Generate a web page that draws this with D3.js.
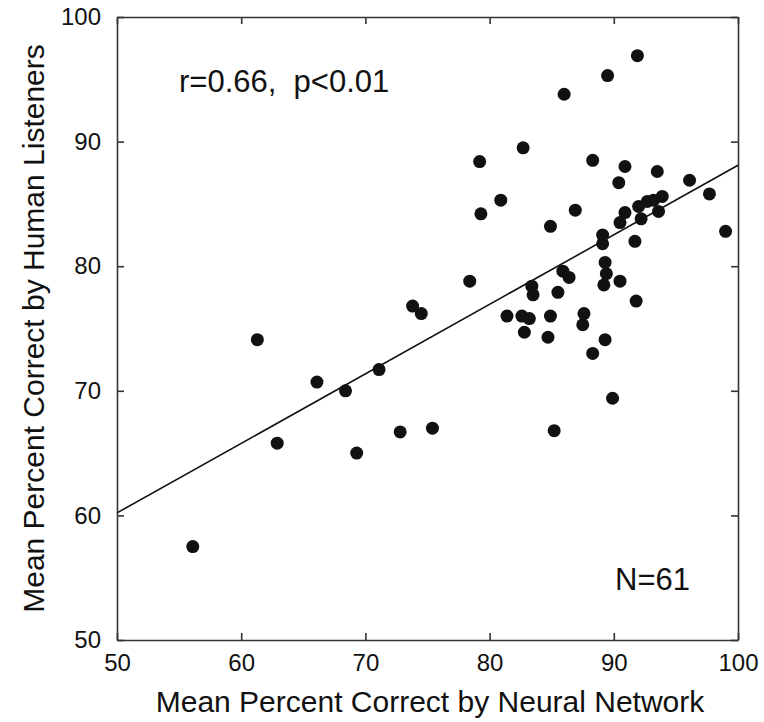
<!DOCTYPE html>
<html>
<head>
<meta charset="utf-8">
<script src="https://cdn.jsdelivr.net/npm/d3@7"></script>
<style>
  body { margin: 0; background: #fff; }
  text { font-family: "Liberation Sans", Arial, sans-serif; fill: #111; }
</style>
</head>
<body>
<div id="chart"></div>
<script>
// neural network score (x) and human listener score (y), one pair per item
var networkScores = [
    56.1, 61.3, 62.9, 66.1, 68.4, 69.3, 71.1, 72.8, 73.8, 74.5,
    75.4, 78.4, 79.2, 79.3, 80.9, 81.4, 82.6, 82.7, 82.8, 83.2,
    83.4, 83.5, 84.7, 84.9, 84.9, 85.2, 85.5, 85.9, 86.0, 86.4,
    86.9, 87.5, 87.6, 88.3, 88.3, 89.1, 89.1, 89.2, 89.3, 89.3,
    89.4, 89.5, 89.9, 90.4, 90.5, 90.5, 90.9, 90.9, 91.7, 91.8,
    91.9, 92.0, 92.2, 92.7, 93.2, 93.5, 93.6, 93.9, 96.1, 97.7,
    99.0
];
var humanScores = [
    57.5, 74.1, 65.8, 70.7, 70.0, 65.0, 71.7, 66.7, 76.8, 76.2,
    67.0, 78.8, 88.4, 84.2, 85.3, 76.0, 76.0, 89.5, 74.7, 75.8,
    78.4, 77.7, 74.3, 76.0, 83.2, 66.8, 77.9, 79.6, 93.8, 79.1,
    84.5, 75.3, 76.2, 73.0, 88.5, 81.8, 82.5, 78.5, 74.1, 80.3,
    79.4, 95.3, 69.4, 86.7, 78.8, 83.5, 88.0, 84.3, 82.0, 77.2,
    96.9, 84.8, 83.8, 85.2, 85.3, 87.6, 84.4, 85.6, 86.9, 85.8,
    82.8
];
// fitted line, read at both ends of the x range
var fitX = [50, 100];
var fitY = [60.2, 88.1];
var xTicks = [50, 60, 70, 80, 90, 100];
var yTicks = [50, 60, 70, 80, 90, 100];

var margin = {top: 17, right: 26, bottom: 82, left: 117},
    width = 764 - margin.left - margin.right,
    height = 722 - margin.top - margin.bottom;

var svg = d3.select("#chart").append("svg")
    .attr("width", 764)
    .attr("height", 722);

var g = svg.append("g")
    .attr("transform", "translate(" + margin.left + "," + margin.top + ")");

var x = d3.scaleLinear().domain([50, 100]).range([0, width]);
var y = d3.scaleLinear().domain([50, 100]).range([height, 0]);

// box with inward ticks on all four sides
var axes = [
    {axis: d3.axisBottom(x).tickValues(xTicks).tickSizeInner(-7).tickSizeOuter(0).tickPadding(14), t: [0, height], labels: true},
    {axis: d3.axisTop(x).tickValues(xTicks).tickSizeInner(-7).tickSizeOuter(0), t: [0, 0], labels: false},
    {axis: d3.axisLeft(y).tickValues(yTicks).tickSizeInner(-7).tickSizeOuter(0).tickPadding(16), t: [0, 0], labels: true},
    {axis: d3.axisRight(y).tickValues(yTicks).tickSizeInner(-7).tickSizeOuter(0), t: [width, 0], labels: false}
];
axes.forEach(function(a) {
    var ax = g.append("g")
        .attr("transform", "translate(" + a.t[0] + "," + a.t[1] + ")")
        .call(a.axis);
    ax.select(".domain").attr("stroke", "#333").attr("stroke-width", 1.6);
    ax.selectAll(".tick line").attr("stroke", "#333").attr("stroke-width", 1.6);
    ax.selectAll(".tick text")
        .attr("font-size", 24)
        .attr("font-family", "Liberation Sans, Arial, sans-serif")
        .attr("fill", "#111");
    if (!a.labels) ax.selectAll(".tick text").remove();
});

// regression line
g.append("line")
    .attr("x1", x(fitX[0])).attr("y1", y(fitY[0]))
    .attr("x2", x(fitX[1])).attr("y2", y(fitY[1]))
    .attr("stroke", "#111")
    .attr("stroke-width", 1.6);

// points
g.append("g")
    .selectAll("circle")
    .data(networkScores).enter()
    .append("circle")
    .attr("cx", function(d) { return x(d); })
    .attr("cy", function(d, i) { return y(humanScores[i]); })
    .attr("r", 6.5)
    .attr("fill", "#111");

// annotations
svg.append("text")
    .attr("x", 179).attr("y", 92)
    .attr("font-size", 31)
    .attr("xml:space", "preserve")
    .style("white-space", "pre")
    .text("r=0.66,  p<0.01");

svg.append("text")
    .attr("x", 615).attr("y", 590)
    .attr("font-size", 31)
    .text("N=61");

// axis titles
svg.append("text")
    .attr("x", 430).attr("y", 712)
    .attr("text-anchor", "middle")
    .attr("font-size", 30)
    .text("Mean Percent Correct by Neural Network");

svg.append("text")
    .attr("transform", "translate(44," + (margin.top + height / 2) + ") rotate(-90)")
    .attr("text-anchor", "middle")
    .attr("font-size", 30)
    .text("Mean Percent Correct by Human Listeners");
</script>
</body>
</html>
